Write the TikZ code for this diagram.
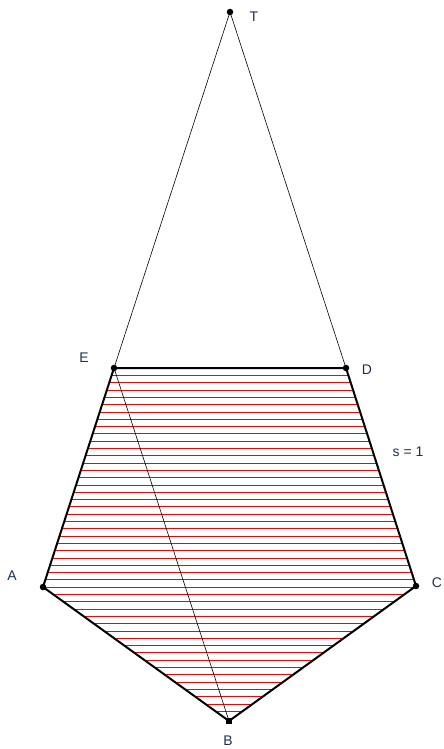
\documentclass[tikz,border=0pt]{standalone}
\usepackage{fontspec}
\setmainfont{Liberation Sans}
\definecolor{lbl}{HTML}{1F2F4F}
\begin{document}
\begin{tikzpicture}[x=1bp,y=-1bp,
  lab/.style={text=lbl,font=\fontsize{14}{16}\selectfont,inner sep=0pt},
  edge/.style={line width=2bp,line join=round},
  thin/.style={line width=0.6bp},
  pt/.style={circle,fill=black,inner sep=0pt,minimum size=6.5bp},
  sq/.style={rectangle,fill=black,inner sep=0pt,minimum size=5.5bp}]
\useasboundingbox (0,0) rectangle (444,749);
\coordinate (A) at (43,587);
\coordinate (B) at (229,721);
\coordinate (C) at (416,586);
\coordinate (D) at (346,368);
\coordinate (E) at (114,368);
\coordinate (T) at (230,12);
\begin{scope}
\clip (A) -- (B) -- (C) -- (D) -- (E) -- cycle;
\foreach \k in {0,...,48}{
  \pgfmathsetmacro{\yy}{round(375+7.3*\k)+0.5}
  \draw[red,line width=1bp] (0,\yy) -- (444,\yy);
}
\end{scope}
\draw[thin] (E) -- (T) -- (D);
\draw[thin] (E) -- (B);
\draw[edge] (A) -- (B) -- (C) -- (D) -- (E) -- cycle;
\node[pt] (nA) at (A) {};
\node[sq] (nB) at (B) {};
\node[pt] (nC) at (C) {};
\node[pt] (nD) at (D) {};
\node[pt] (nE) at (E) {};
\node[pt] (nT) at (T) {};
\node[lab] (lT) at (254,17) {T};
\node[lab] (lE) at (84,358) {E};
\node[lab] (lD) at (367,370) {D};
\node[lab] (lA) at (12,576) {A};
\node[lab] (lB) at (228,741) {B};
\node[lab] (lC) at (437,583) {C};
\node[lab] (ls) at (408,452) {s = 1};
\end{tikzpicture}
\end{document}
